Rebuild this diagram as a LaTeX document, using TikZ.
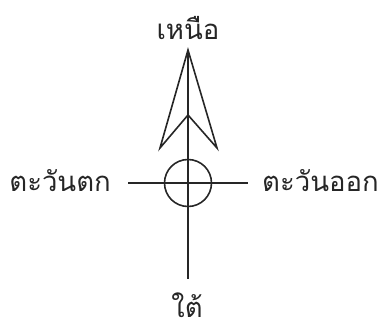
\documentclass[tikz,border=0pt]{standalone}
\usepackage{fontspec}
\newfontfamily\thaifont[Script=Thai]{Loma}
\begin{document}
\begin{tikzpicture}[x=1pt,y=-1pt,
  ln/.style={line width=1.6pt,draw=black!85},
  lbl/.style={font=\thaifont\fontsize{27.5}{30}\selectfont,text=black!85,inner sep=0pt}]
\useasboundingbox (0,0) rectangle (383,332);
\coordinate (c) at (188,183);
\coordinate (tip) at (188,50);
\coordinate (bot) at (188,279);
\coordinate (w) at (128,183);
\coordinate (e) at (248,183);
\coordinate (bl) at (160,148);
\coordinate (br) at (217,148);
\coordinate (notch) at (188,115);
\draw[ln] (c) circle (23.5);
\draw[ln] (tip) -- (bot);
\draw[ln] (w) -- (e);
\draw[ln,line join=miter] (notch) -- (bl) -- (tip) -- (br) -- cycle;
\node[lbl] (n) at (188,28) {เหนือ};
\node[lbl,anchor=east] (wl) at (111,181) {ตะวันตก};
\node[lbl,anchor=west] (el) at (262,181) {ตะวันออก};
\node[lbl] (s) at (187,305) {ใต้};
\end{tikzpicture}
\end{document}
